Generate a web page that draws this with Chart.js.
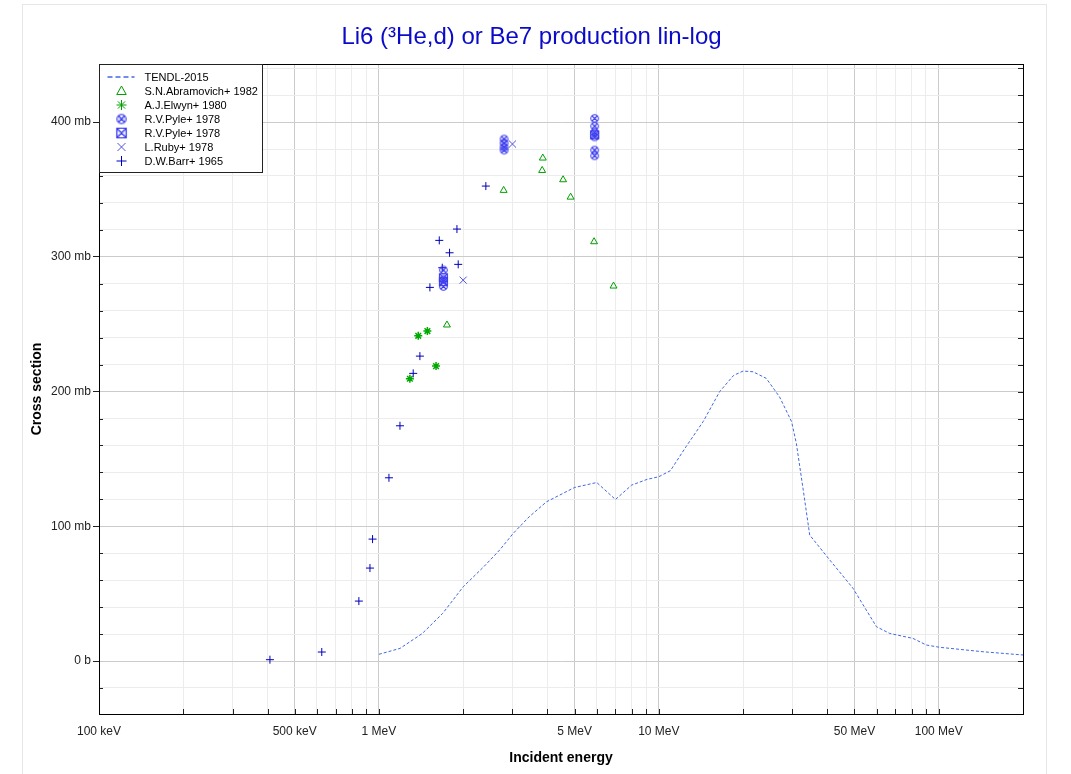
<!DOCTYPE html>
<html>
<head>
<meta charset="utf-8">
<script src="https://cdn.jsdelivr.net/npm/chart.js@4.4.0/dist/chart.umd.min.js"></script>
<style>
  html, body { margin: 0; padding: 0; background: #fff; }
</style>
</head>
<body>
<canvas id="chart" width="1071" height="774"></canvas>
<script>
// TENDL-2015 evaluation (incident energy in MeV, cross section in mb)
const tendlEnergy = [1.0, 1.19, 1.43, 1.69, 1.84, 2.0, 2.37, 2.70, 3.02, 3.44, 3.97, 5.0, 6.0, 7.0, 8.0, 9.07, 10.0, 11.0, 12.5, 14.4, 16.5, 18.5, 20.0, 21.7, 24.2, 27.0, 29.8, 31.0, 32.8, 34.6, 40.8, 49.4, 59.9, 66.8, 80.9, 90.3, 100.8, 143.9, 200];
const tendlXs     = [5.0, 9.4, 20.5, 35.4, 45.3, 55.1, 70.0, 82.4, 94.8, 107.0, 118.2, 128.8, 132.5, 119.9, 130.6, 134.8, 136.8, 141.3, 159.0, 177.7, 200.0, 212.0, 215.2, 214.7, 209.8, 196.0, 177.7, 161.5, 127.0, 93.5, 75.0, 54.0, 25.5, 20.5, 16.8, 11.9, 10.2, 6.9, 4.5];

// measurements
const abramovichEnergy = [1.75, 2.79, 3.83, 3.85, 4.55, 4.84, 5.87, 6.89];
const abramovichXs     = [249.4, 349.3, 364.1, 373.3, 357.2, 344.3, 311.2, 278.3];

const elwynEnergy = [1.29, 1.382, 1.49, 1.60];
const elwynXs     = [209.5, 241.4, 244.9, 218.9];

const pyleAEnergy = [1.70, 1.70, 1.70, 2.80, 2.80, 2.80, 2.80, 5.90, 5.90, 5.90, 5.90, 5.90, 5.90];
const pyleAXs     = [290.2, 283.0, 278.0, 387.4, 384.4, 381.4, 379.2, 402.7, 397.0, 392.4, 389.0, 379.2, 375.0];

const pyleBEnergy = [1.70, 1.70, 5.90];
const pyleBXs     = [284.5, 281.5, 390.5];

const rubyEnergy = [2.0, 3.0];
const rubyXs     = [282.7, 383.7];

const barrEnergy = [0.408, 0.625, 0.848, 0.929, 0.949, 1.086, 1.189, 1.326, 1.401, 1.521, 1.643, 1.684, 1.788, 1.90, 1.92, 2.41];
const barrXs     = [1.0, 6.7, 44.5, 69.0, 90.5, 136.0, 174.6, 213.5, 226.3, 277.3, 312.2, 291.9, 303.0, 320.6, 294.4, 352.5];

// axes
const xTickValues = [0.1, 0.2, 0.3, 0.4, 0.5, 0.6, 0.7, 0.8, 0.9, 1, 2, 3, 4, 5, 6, 7, 8, 9, 10, 20, 30, 40, 50, 60, 70, 80, 90, 100, 200];
const xLabelValues = [0.1, 0.5, 1, 5, 10, 50, 100];
const xLabelTexts = ['100 keV', '500 keV', '1 MeV', '5 MeV', '10 MeV', '50 MeV', '100 MeV'];

const yTickValues = [-20, 0, 20, 40, 60, 80, 100, 120, 140, 160, 180, 200, 220, 240, 260, 280, 300, 320, 340, 360, 380, 400, 420, 440];
const yLabelValues = [0, 100, 200, 300, 400];
const yLabelTexts = ['0 b', '100 mb', '200 mb', '300 mb', '400 mb'];

const toPoints = (xs, ys) => xs.map((x, i) => ({ x: x, y: ys[i] }));
const findIndex = (list, v) => list.findIndex(l => Math.abs(l - v) < 1e-9);

// marker images for the two Pyle series
const makeMarker = (kind, color) => {
  const c = document.createElement('canvas');
  c.width = 11; c.height = 11;
  const g = c.getContext('2d');
  g.strokeStyle = color;
  g.lineWidth = 1.1;
  g.beginPath();
  if (kind === 'circle') {
    g.arc(5.5, 5.5, 3.8, 0, Math.PI * 2);
    g.moveTo(3, 3); g.lineTo(8, 8);
    g.moveTo(8, 3); g.lineTo(3, 8);
  } else {
    g.rect(1.5, 1.5, 8, 8);
    g.moveTo(1.5, 1.5); g.lineTo(9.5, 9.5);
    g.moveTo(9.5, 1.5); g.lineTo(1.5, 9.5);
  }
  g.stroke();
  return c;
};

const tendlColor = 'rgb(65, 105, 225)';
const greenColor = '#00a000';
const pyleColor = '#3c3cee';
const rubyColor = '#5050e8';
const barrColor = '#0000bb';

const pyleCircle = makeMarker('circle', pyleColor);
const pyleBox = makeMarker('box', pyleColor);

// legend entries, in the order shown
const legendItems = [
  { label: 'TENDL-2015', kind: 'dash', color: tendlColor },
  { label: 'S.N.Abramovich+ 1982', kind: 'triangle', color: greenColor },
  { label: 'A.J.Elwyn+ 1980', kind: 'star', color: greenColor },
  { label: 'R.V.Pyle+ 1978', kind: 'image', img: pyleCircle },
  { label: 'R.V.Pyle+ 1978', kind: 'image', img: pyleBox },
  { label: 'L.Ruby+ 1978', kind: 'x', color: rubyColor },
  { label: 'D.W.Barr+ 1965', kind: 'plus', color: barrColor }
];

const drawSymbol = (ctx, item, x, y, r) => {
  ctx.save();
  ctx.strokeStyle = item.color;
  ctx.lineWidth = 1;
  ctx.beginPath();
  if (item.kind === 'dash') {
    ctx.lineWidth = 1.5;
    ctx.setLineDash([5, 3]);
    ctx.moveTo(x - 14, y); ctx.lineTo(x + 13, y);
  } else if (item.kind === 'triangle') {
    ctx.moveTo(x, y - r);
    ctx.lineTo(x + r * 0.95, y + r * 0.7);
    ctx.lineTo(x - r * 0.95, y + r * 0.7);
    ctx.closePath();
  } else if (item.kind === 'star') {
    ctx.moveTo(x - r, y); ctx.lineTo(x + r, y);
    ctx.moveTo(x, y - r); ctx.lineTo(x, y + r);
    const d = r * 0.72;
    ctx.moveTo(x - d, y - d); ctx.lineTo(x + d, y + d);
    ctx.moveTo(x + d, y - d); ctx.lineTo(x - d, y + d);
  } else if (item.kind === 'x') {
    const d = r * 0.8;
    ctx.moveTo(x - d, y - d); ctx.lineTo(x + d, y + d);
    ctx.moveTo(x + d, y - d); ctx.lineTo(x - d, y + d);
  } else if (item.kind === 'plus') {
    ctx.moveTo(x - r, y); ctx.lineTo(x + r, y);
    ctx.moveTo(x, y - r); ctx.lineTo(x, y + r);
  } else if (item.kind === 'image') {
    ctx.drawImage(item.img, x - 6.5, y - 6.5, 13, 13);
  }
  ctx.stroke();
  ctx.restore();
};

// frame, inner ticks, legend and outer border
const decorPlugin = {
  id: 'decor',
  beforeDraw(chart) {
    const ctx = chart.ctx;
    ctx.save();
    ctx.fillStyle = '#fff';
    ctx.fillRect(0, 0, chart.width, chart.height);
    ctx.strokeStyle = '#e6e6e6';
    ctx.lineWidth = 1;
    ctx.strokeRect(22.5, 4.5, 1024, 790);
    ctx.restore();
  },
  afterDraw(chart) {
    const ctx = chart.ctx;
    const a = chart.chartArea;
    const xs = chart.scales.x;
    const ys = chart.scales.y;
    ctx.save();
    ctx.strokeStyle = '#222';
    ctx.lineWidth = 1;
    ctx.beginPath();
    yTickValues.forEach(v => {
      const py = Math.round(ys.getPixelForValue(v)) + 0.5;
      if (findIndex(yLabelValues, v) < 0) {
        ctx.moveTo(a.left, py); ctx.lineTo(a.left + 4, py);
      }
      ctx.moveTo(a.right, py); ctx.lineTo(a.right - 5, py);
    });
    xTickValues.forEach(v => {
      const px = Math.round(xs.getPixelForValue(v)) + 0.5;
      ctx.moveTo(px, a.bottom); ctx.lineTo(px, a.bottom - 5);
    });
    ctx.stroke();

    ctx.strokeStyle = '#000';
    ctx.strokeRect(Math.round(a.left) + 0.5, Math.round(a.top) + 0.5, Math.round(a.right - a.left), Math.round(a.bottom - a.top));

    // legend box
    const lx = Math.round(a.left) + 0.5, ly = Math.round(a.top) + 0.5;
    ctx.fillStyle = '#fff';
    ctx.fillRect(lx, ly, 163, 108);
    ctx.strokeStyle = '#222';
    ctx.strokeRect(lx, ly, 163, 108);
    ctx.font = '11px "Liberation Sans", Arial, sans-serif';
    ctx.textBaseline = 'middle';
    ctx.fillStyle = '#000';
    legendItems.forEach((item, i) => {
      const y = ly + 12.5 + i * 14;
      drawSymbol(ctx, item, lx + 22, y, 5);
      ctx.fillText(item.label, lx + 45, y + 0.5);
    });
    ctx.restore();
  }
};

const markerSet = (color, style, radius, width) => ({
  showLine: false,
  borderColor: color,
  backgroundColor: 'rgba(0,0,0,0)',
  pointStyle: style,
  pointRadius: radius,
  pointHoverRadius: radius,
  pointBorderWidth: width || 1
});

new Chart(document.getElementById('chart'), {
  type: 'scatter',
  data: {
    datasets: [
      {
        label: 'TENDL-2015',
        type: 'line',
        data: toPoints(tendlEnergy, tendlXs),
        borderColor: tendlColor,
        borderWidth: 1,
        borderDash: [3, 2],
        pointRadius: 0,
        fill: false,
        tension: 0
      },
      Object.assign({ label: 'S.N.Abramovich+ 1982', data: toPoints(abramovichEnergy, abramovichXs) }, markerSet(greenColor, 'triangle', 4)),
      Object.assign({ label: 'A.J.Elwyn+ 1980', data: toPoints(elwynEnergy, elwynXs) }, markerSet('#00aa00', 'star', 4, 1.5)),
      Object.assign({ label: 'R.V.Pyle+ 1978', data: toPoints(pyleAEnergy, pyleAXs) }, markerSet(pyleColor, pyleCircle, 4)),
      Object.assign({ label: 'R.V.Pyle+ 1978', data: toPoints(pyleBEnergy, pyleBXs) }, markerSet(pyleColor, pyleBox, 4)),
      Object.assign({ label: 'L.Ruby+ 1978', data: toPoints(rubyEnergy, rubyXs) }, markerSet(rubyColor, 'crossRot', 5)),
      Object.assign({ label: 'D.W.Barr+ 1965', data: toPoints(barrEnergy, barrXs) }, markerSet(barrColor, 'cross', 4))
    ]
  },
  options: {
    responsive: false,
    animation: false,
    layout: { padding: { left: 0, right: 8, top: 0, bottom: 0 } },
    plugins: {
      legend: { display: false },
      tooltip: { enabled: false },
      title: {
        display: true,
        text: 'Li6 (³He,d) or Be7 production lin-log',
        color: '#0a0ac8',
        font: { family: '"Liberation Sans", Arial, sans-serif', size: 24, weight: 'normal' },
        padding: { top: 22.6, bottom: 12.6 }
      }
    },
    scales: {
      x: {
        type: 'logarithmic',
        min: 0.1,
        max: 200,
        afterBuildTicks: scale => { scale.ticks = xTickValues.map(v => ({ value: v })); },
        afterFit: scale => { scale.height = 60; },
        ticks: {
          autoSkip: false,
          maxRotation: 0,
          padding: 4,
          color: '#222',
          font: { family: '"Liberation Sans", Arial, sans-serif', size: 12 },
          callback: v => {
            const i = findIndex(xLabelValues, v);
            return i >= 0 ? xLabelTexts[i] : '';
          }
        },
        grid: {
          color: c => findIndex(xLabelValues, c.tick.value) >= 0 ? '#cbcbcb' : '#ececec',
          tickLength: 6,
          tickColor: 'rgba(0,0,0,0)'
        },
        border: { display: true, color: '#000' },
        title: {
          display: true,
          text: 'Incident energy',
          color: '#000',
          font: { family: '"Liberation Sans", Arial, sans-serif', size: 14, weight: 'bold' },
          padding: { top: 0, bottom: 7.6 }
        }
      },
      y: {
        type: 'linear',
        min: -39.3,
        max: 443.1,
        afterBuildTicks: scale => { scale.ticks = yTickValues.map(v => ({ value: v })); },
        afterFit: scale => { scale.width = 99; },
        ticks: {
          autoSkip: false,
          padding: 2,
          color: '#222',
          font: { family: '"Liberation Sans", Arial, sans-serif', size: 12 },
          callback: v => {
            const i = findIndex(yLabelValues, v);
            return i >= 0 ? yLabelTexts[i] : '';
          }
        },
        grid: {
          color: c => findIndex(yLabelValues, c.tick.value) >= 0 ? '#cbcbcb' : '#ececec',
          tickLength: 6,
          tickColor: c => findIndex(yLabelValues, c.tick.value) >= 0 ? '#222' : 'rgba(0,0,0,0)'
        },
        border: { display: true, color: '#000' },
        title: {
          display: true,
          text: 'Cross section',
          color: '#000',
          font: { family: '"Liberation Sans", Arial, sans-serif', size: 14, weight: 'bold' },
          padding: { top: 29, bottom: 0 }
        }
      },
      yR: {
        type: 'linear',
        position: 'right',
        min: -39.3,
        max: 443.1,
        afterFit: scale => { scale.width = 40; },
        ticks: { display: false },
        grid: { display: false, drawOnChartArea: false },
        border: { display: false }
      }
    }
  },
  plugins: [decorPlugin]
});
</script>
</body>
</html>
